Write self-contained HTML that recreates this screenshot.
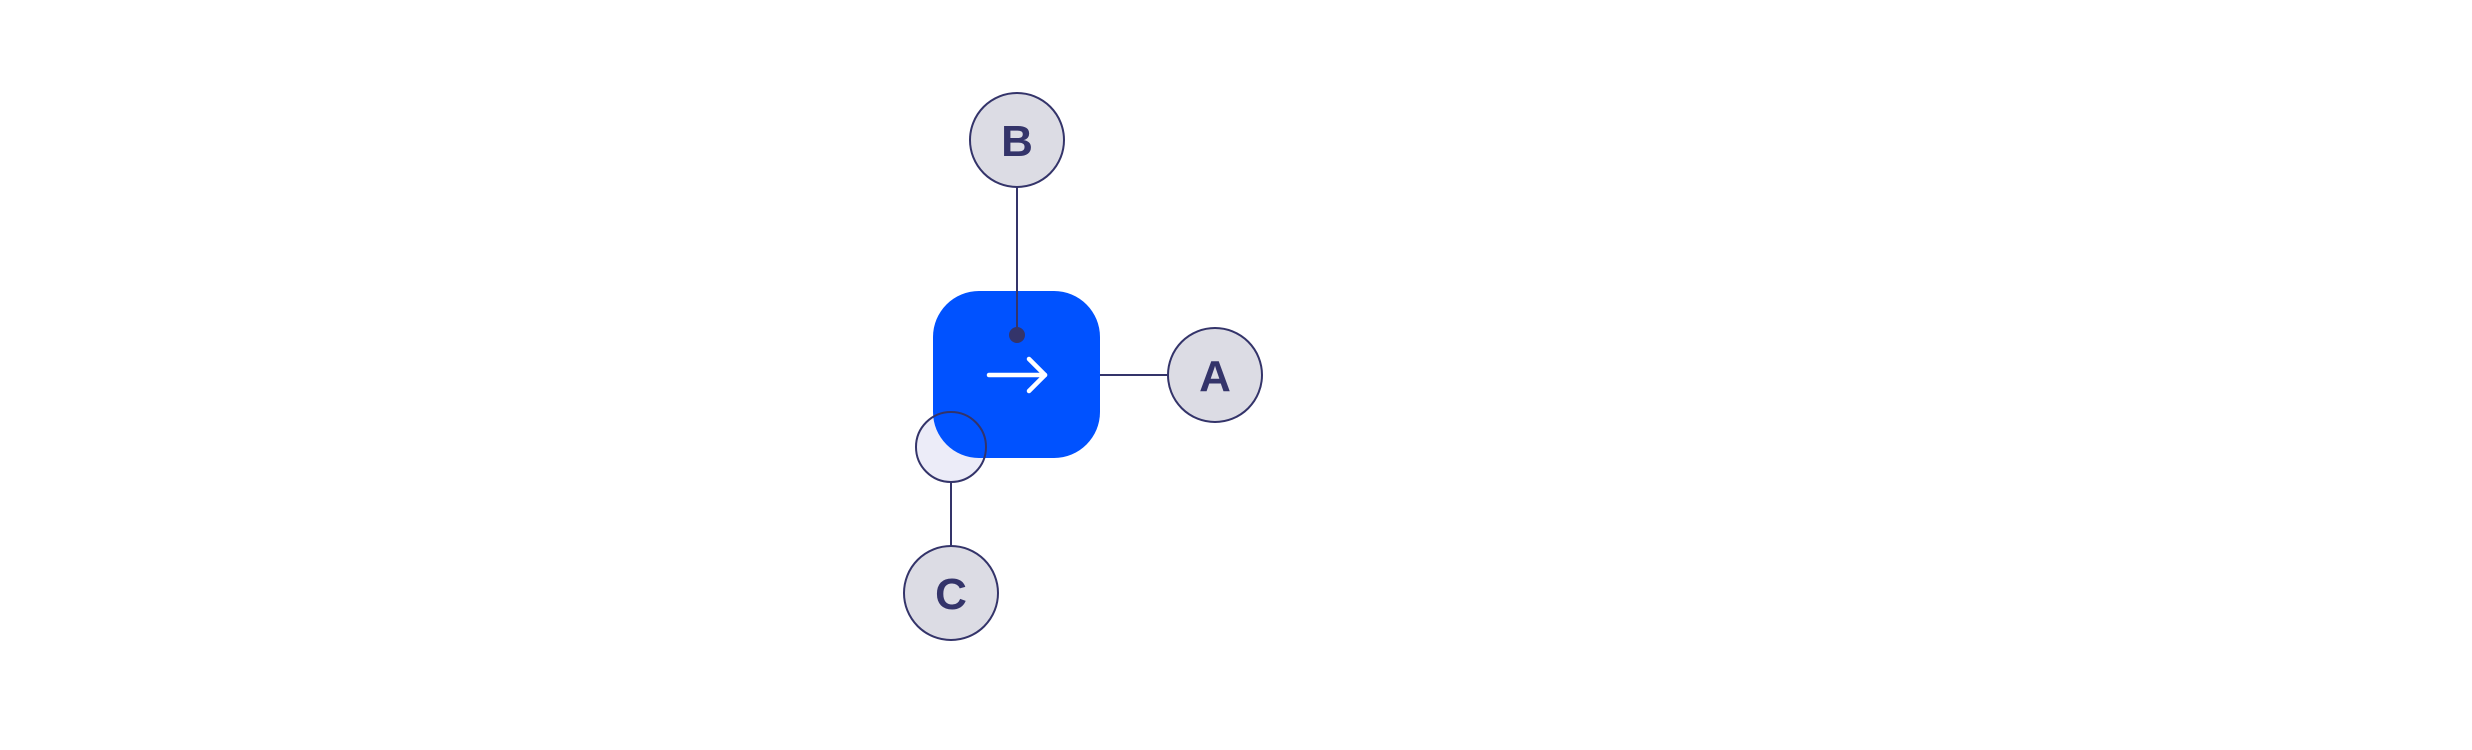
<!DOCTYPE html>
<html><head><meta charset="utf-8"><style>html,body{margin:0;padding:0;background:#fff;}svg{display:block}</style></head>
<body>
<svg width="2472" height="750" viewBox="0 0 2472 750" xmlns="http://www.w3.org/2000/svg">
<circle cx="951" cy="447" r="35" fill="#ececf8"/>
<rect x="933" y="291" width="167" height="167" rx="46" fill="#0052ff"/>
<g stroke="#34346a" stroke-width="2" fill="none">
<line x1="1017" y1="187" x2="1017" y2="335"/>
<line x1="1100" y1="375" x2="1168" y2="375"/>
<line x1="951" y1="482" x2="951" y2="546"/>
</g>
<circle cx="951" cy="447" r="35" fill="none" stroke="#34346a" stroke-width="2"/>
<circle cx="1017" cy="335" r="8" fill="#34346a"/>
<g stroke="#fff" stroke-width="4.5" fill="none" stroke-linecap="round" stroke-linejoin="round">
<line x1="989" y1="375" x2="1045" y2="375"/>
<polyline points="1029,359 1045,375 1029,391"/>
</g>
<g fill="#dcdce4" stroke="#34346a" stroke-width="2">
<circle cx="1017" cy="140" r="47"/>
<circle cx="1215" cy="375" r="47"/>
<circle cx="951" cy="593" r="47"/>
</g>
<g font-family="Liberation Sans, sans-serif" font-weight="bold" font-size="44" fill="#34346a" text-anchor="middle">
<text x="1017" y="156">B</text>
<text x="1215" y="391">A</text>
<text x="951" y="609">C</text>
</g>
</svg>
</body></html>
